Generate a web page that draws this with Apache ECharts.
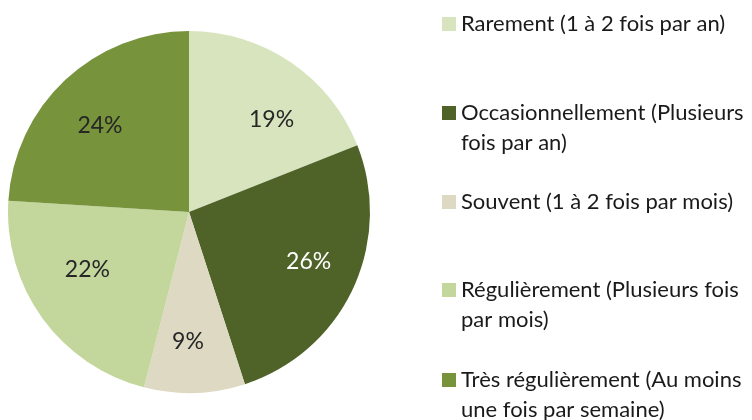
<!DOCTYPE html>
<html>
<head>
<meta charset="utf-8">
<script src="https://cdn.jsdelivr.net/npm/echarts@6/dist/echarts.min.js"></script>
<style>
  html, body { margin: 0; padding: 0; background: #fff; }
  #chart { width: 752px; height: 420px; }
</style>
</head>
<body>
<div id="chart"></div>
<script>
var categories = [
    'Rarement (1 à 2 fois par an)',
    'Occasionnellement (Plusieurs\nfois par an)',
    'Souvent (1 à 2 fois par mois)',
    'Régulièrement (Plusieurs fois\npar mois)',
    'Très régulièrement (Au moins\nune fois par semaine)'
];
var shares = [19, 26, 9, 22, 24];
var colors = ['#d7e4bd', '#4f6228', '#ddd9c3', '#c3d69b', '#77933c'];
var labelColors = ['#262626', '#ffffff', '#262626', '#262626', '#262626'];

var chart = echarts.init(document.getElementById('chart'));

// where each legend entry's marker sits (vertical centre)
var legendY = [24, 113, 202, 290, 380];
// nudges so labels sit where the original put them
var labelNudge = [[30, -15], [35, 10], [-4, 36], [-26, 3], [-25, -18]];

var legends = categories.map(function (name, i) {
    var twoLines = name.indexOf('\n') >= 0;
    return {
        data: [name],
        orient: 'vertical',
        left: 442,
        top: legendY[i] - (twoLines ? 45 : 15),
        padding: 0,
        icon: 'rect',
        itemWidth: 14,
        itemHeight: 14,
        selectedMode: false,
        formatter: function (n) {
            return n.indexOf('\n') >= 0 ? '\n' + n : n;
        },
        textStyle: {
            fontFamily: 'Lato',
            fontSize: 22,
            lineHeight: 30,
            color: '#1a1a1a'
        }
    };
});

var option = {
    animation: false,
    legend: legends,
    series: [{
        type: 'pie',
        center: [189, 212],
        radius: 181,
        startAngle: 90,
        clockwise: true,
        silent: true,
        label: {
            show: true,
            position: 'inside',
            fontFamily: 'Lato',
            fontSize: 23,
            formatter: '{c}%'
        },
        labelLine: { show: false },
        itemStyle: { borderWidth: 0 },
        data: categories.map(function (name, i) {
            return {
                name: name,
                value: shares[i],
                itemStyle: { color: colors[i] },
                label: { color: labelColors[i], offset: labelNudge[i] }
            };
        })
    }]
};

chart.setOption(option);
</script>
</body>
</html>
